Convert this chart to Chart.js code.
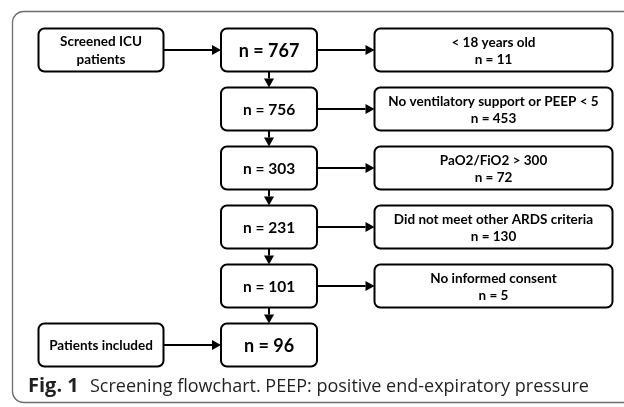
<!DOCTYPE html>
<html><head><meta charset="utf-8">
<script src="https://cdn.jsdelivr.net/npm/chart.js@4.4.1/dist/chart.umd.min.js"></script>
<style>html,body{margin:0;padding:0;background:#fff}#wrap{width:624px;height:407px;position:relative}</style>
</head><body><div id="wrap"><canvas id="c" width="624" height="407"></canvas></div>
<script>
// ---- data ----
const remaining = [767, 756, 303, 231, 101, 96];
const exclusionReasons = ["< 18 years old", "No ventilatory support or PEEP < 5", "PaO2/FiO2 > 300", "Did not meet other ARDS criteria", "No informed consent"];
const excluded = [11, 453, 72, 130, 5];
const startLabel = ["Screened ICU", "patients"];
const endLabel = ["Patients included"];
const captionBold = "Fig. 1";
const captionText = "Screening flowchart. PEEP: positive end-expiratory pressure";

// logical layout: column index, row index
const stagePoints = remaining.map((v, i) => ({x: 1, y: i}));
const exclPoints = excluded.map((v, i) => ({x: 2, y: i}));
const sidePoints = [{x: 0, y: 0}, {x: 0, y: remaining.length - 1}];

const FONT = 'Lato, "Open Sans", sans-serif';
const style = {
  boxH: 43, widths: [125, 96, 238], radius: 6, lw: 2,
  head: 9, headHalf: 5
};

function rectFor(col, x, y) {
  const w = style.widths[col];
  const left = col === 0 ? x - w : (col === 1 ? x - w / 2 : x);
  return {l: left, t: y - style.boxH / 2, w: w, h: style.boxH, cx: left + w / 2, cy: y};
}

function arrow(ctx, x1, y1, x2, y2) {
  const dx = x2 - x1, dy = y2 - y1, len = Math.hypot(dx, dy);
  const ux = dx / len, uy = dy / len;
  const bx = x2 - ux * style.head, by = y2 - uy * style.head;
  ctx.beginPath(); ctx.moveTo(x1, y1); ctx.lineTo(bx, by); ctx.stroke();
  ctx.beginPath();
  ctx.moveTo(x2, y2);
  ctx.lineTo(bx - uy * style.headHalf, by + ux * style.headHalf);
  ctx.lineTo(bx + uy * style.headHalf, by - ux * style.headHalf);
  ctx.closePath(); ctx.fill();
}

function drawBox(ctx, r, lines, font, gap) {
  ctx.beginPath();
  ctx.roundRect(r.l, r.t, r.w, r.h, style.radius);
  ctx.fillStyle = '#fff'; ctx.fill();
  ctx.lineWidth = style.lw; ctx.strokeStyle = '#000'; ctx.stroke();
  ctx.fillStyle = '#000'; ctx.font = font;
  ctx.textAlign = 'center'; ctx.textBaseline = 'middle';
  const n = lines.length;
  lines.forEach((t, k) => {
    ctx.fillText(t, r.cx, r.cy + (k - (n - 1) / 2) * gap + 1);
  });
}

const flowPlugin = {
  id: 'flow',
  beforeDraw(chart) {
    const ctx = chart.ctx;
    ctx.save();
    ctx.fillStyle = '#fff'; ctx.fillRect(0, 0, chart.width, chart.height);
    ctx.strokeStyle = '#6e6e6e'; ctx.lineWidth = 1.3;
    ctx.beginPath(); ctx.roundRect(12.5, 11.5, 650, 391, 11); ctx.stroke();
    ctx.restore();
  },
  afterDatasetsDraw(chart) {
    const ctx = chart.ctx;
    ctx.save();
    const el = (d, i) => chart.getDatasetMeta(d).data[i];
    const stageR = stagePoints.map((p, i) => rectFor(p.x, el(0, i).x, el(0, i).y));
    const exclR = exclPoints.map((p, i) => rectFor(p.x, el(1, i).x, el(1, i).y));
    const sideR = sidePoints.map((p, i) => rectFor(p.x, el(2, i).x, el(2, i).y));
    ctx.strokeStyle = '#000'; ctx.fillStyle = '#000'; ctx.lineWidth = style.lw;
    // arrows
    sideR.forEach((s, k) => {
      const t = k === 0 ? stageR[0] : stageR[stageR.length - 1];
      arrow(ctx, s.l + s.w, s.cy, t.l, t.cy);
    });
    stageR.forEach((s, i) => {
      if (exclR[i]) arrow(ctx, s.l + s.w, s.cy, exclR[i].l, exclR[i].cy);
      if (stageR[i + 1]) arrow(ctx, s.cx, s.t + s.h, stageR[i + 1].cx, stageR[i + 1].t);
    });
    // boxes
    stageR.forEach((r, i) => {
      const big = i === 0 || i === stageR.length - 1;
      drawBox(ctx, r, ['n = ' + remaining[i]], big ? 'bold 18px ' + FONT : 'bold 15.5px ' + FONT, 0);
    });
    exclR.forEach((r, i) => drawBox(ctx, r, [exclusionReasons[i], 'n = ' + excluded[i]], 'bold 13.5px ' + FONT, 17));
    drawBox(ctx, sideR[0], startLabel, 'bold 13.5px ' + FONT, 18);
    drawBox(ctx, sideR[1], endLabel, 'bold 13.5px ' + FONT, 18);
    // caption
    ctx.textAlign = 'left'; ctx.textBaseline = 'alphabetic'; ctx.fillStyle = '#231f20';
    ctx.font = 'bold 20px "Open Sans", sans-serif';
    ctx.fillText(captionBold, 28, 392);
    ctx.font = '18px "Open Sans", sans-serif';
    ctx.fillText(captionText, 90, 392);
    ctx.restore();
  }
};

new Chart(document.getElementById('c'), {
  type: 'scatter',
  data: {
    datasets: [
      {label: 'stages', data: stagePoints, pointRadius: 0},
      {label: 'excluded', data: exclPoints, pointRadius: 0},
      {label: 'side', data: sidePoints, pointRadius: 0}
    ]
  },
  options: {
    responsive: false, animation: false,
    layout: {padding: 0},
    plugins: {legend: {display: false}, tooltip: {enabled: false}, title: {display: false}},
    scales: {
      x: {type: 'linear', display: false, min: -1.5498, max: 4.3649},
      y: {type: 'linear', display: false, reverse: true, min: -0.8475, max: 6.0508}
    }
  },
  plugins: [flowPlugin]
});
</script></body></html>
